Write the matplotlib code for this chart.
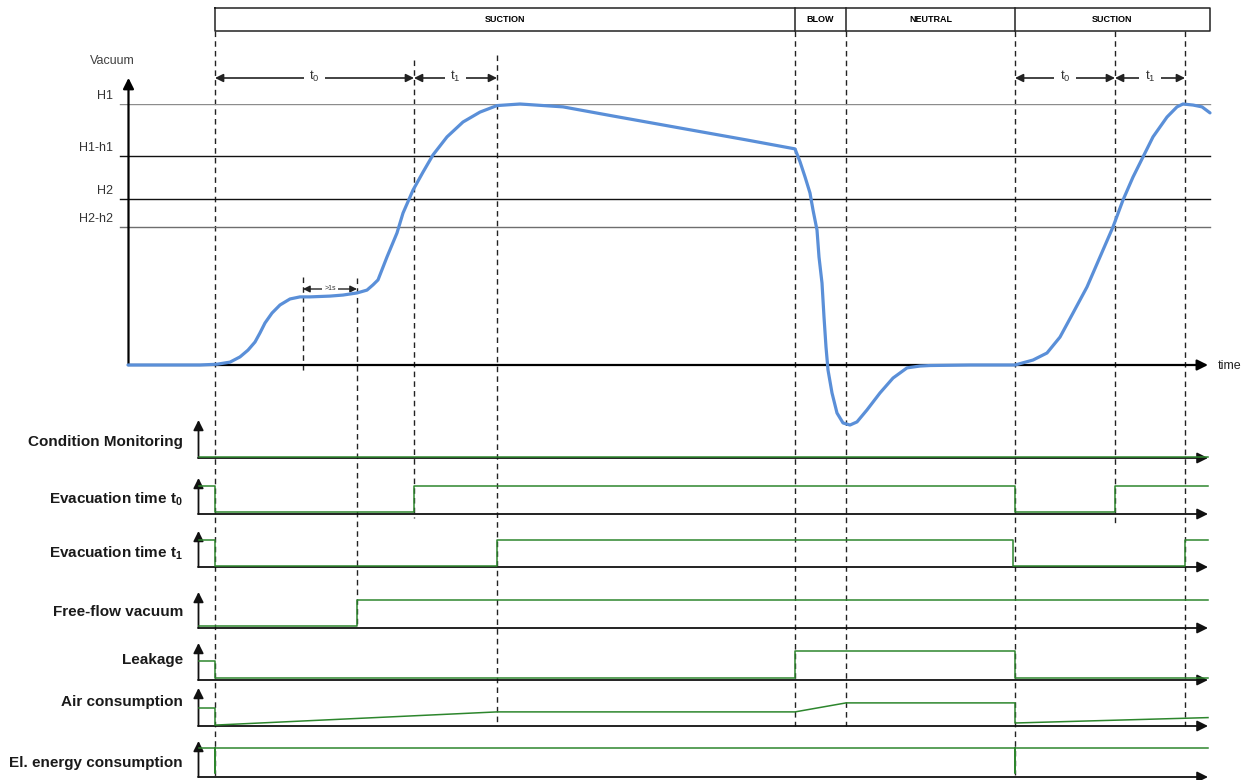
import matplotlib.pyplot as plt

plt.rcParams['font.family'] = ['Liberation Sans', 'DejaVu Sans']

# time in arbitrary units (0 = origin of the vacuum axis)
phase_names = ['SUCTION', 'BLOW', 'NEUTRAL', 'SUCTION']
phase_bounds = [87, 667, 718, 887, 1082]

# vacuum curve, in % of H1
vac_t = [0, 72, 89, 102, 112, 120, 127, 132, 137, 144, 152, 162, 172, 182, 202, 215, 229,
         239, 245, 250, 259, 269, 275, 285, 295, 305, 319, 335, 352, 369, 392, 435, 485,
         552, 619, 667, 672, 677, 682, 685, 689, 691, 694, 696, 698, 700, 704, 709, 715,
         722, 729, 739, 752, 765, 779, 792, 802, 842, 887, 905, 919, 932, 945, 959, 972,
         985, 995, 1005, 1015, 1025, 1039, 1049, 1055, 1065, 1074, 1082]
vac_v = [0, 0, 0.3, 1.1, 3.1, 5.7, 8.8, 12.3, 16.1, 19.9, 23.0, 25.3, 26.1, 26.1, 26.4, 26.8, 27.6,
         28.7, 30.7, 32.6, 41.4, 50.6, 58.2, 67.0, 73.9, 80.5, 87.4, 93.1, 96.9, 99.4, 100, 98.9, 95.4,
         90.8, 86.2, 82.8, 77.9, 72.1, 65.9, 59.4, 51.7, 41.4, 31.4, 18.4, 6.9, -1.9, -10.7, -18.4, -22.2,
         -23.0, -21.8, -17.2, -10.7, -5.0, -1.1, -0.4, -0.2, 0, 0, 1.9, 4.6, 10.7, 19.9, 29.9, 41.4,
         52.9, 63.2, 72.0, 79.7, 87.4, 95.0, 98.9, 100, 99.6, 98.9, 96.6]

level_names = ['H1', 'H1-h1', 'H2', 'H2-h2']
level_values = [100, 80, 63.6, 53]
level_colors = ['#8c8c8c', '#111111', '#111111', '#6e6e6e']

# event markers: time, top and bottom of the dashed line (pixel rows)
event_t = [87, 175, 229, 286, 369, 667, 718, 887, 987, 1057]
event_top = [31, 277, 278, 60, 55, 31, 31, 31, 31, 31]
event_bot = [780, 373, 628, 518, 726, 726, 726, 775, 524, 726]

# time spans shown with arrows
span_start = [87, 286, 887, 987]
span_end = [286, 369, 987, 1057]
span_labels = [r'$\mathregular{t_0}$', r'$\mathregular{t_1}$', r'$\mathregular{t_0}$', r'$\mathregular{t_1}$']

# status signals (0 = axis, 1 = full height)
signal_names = ['Condition Monitoring', r'Evacuation time $\mathregular{t_0}$',
                r'Evacuation time $\mathregular{t_1}$', 'Free-flow vacuum', 'Leakage',
                'Air consumption', 'El. energy consumption']
cm_t = [71, 1080]
cm_v = [0.05, 0.05]
t0_t = [71, 87, 87, 286, 286, 887, 887, 987, 987, 1080]
t0_v = [0.93, 0.93, 0.07, 0.07, 0.93, 0.93, 0.07, 0.07, 0.93, 0.93]
t1_t = [71, 87, 87, 369, 369, 885, 885, 1057, 1057, 1080]
t1_v = [0.9, 0.9, 0.03, 0.03, 0.9, 0.9, 0.03, 0.03, 0.9, 0.9]
ff_t = [71, 229, 229, 1080]
ff_v = [0.07, 0.07, 0.93, 0.93]
leak_t = [71, 87, 87, 667, 667, 887, 887, 1080]
leak_v = [0.63, 0.63, 0.07, 0.07, 0.97, 0.97, 0.07, 0.07]
air_t = [71, 87, 87, 369, 667, 718, 887, 887, 1080]
air_v = [0.6, 0.6, 0.03, 0.47, 0.47, 0.77, 0.77, 0.1, 0.28]
el_t = [71, 87, 87, 87, 887, 887, 887, 1080]
el_v = [0.97, 0.97, 0.13, 0.97, 0.97, 0.13, 0.97, 0.97]
signals = [(cm_t, cm_v), (t0_t, t0_v), (t1_t, t1_v), (ff_t, ff_v),
           (leak_t, leak_v), (air_t, air_v), (el_t, el_v)]

W, H = 1250, 780
XLIM = (-128, 1122)
GREEN = '#2d862d'
BLUE = '#5a8fd8'
row_base = [458, 514, 567, 628, 680, 726, 777]
row_top = [420, 478, 531, 592, 643, 688, 741]
row_label_y = [442, 499, 553, 612, 660, 702, 763]

fig = plt.figure(figsize=(W / 100, H / 100), dpi=100)

# overlay in (time, pixel row) coordinates for annotations
lay = fig.add_axes([0, 0, 1, 1])
lay.set_xlim(XLIM)
lay.set_ylim(H, 0)
lay.axis('off')

for t, y0, y1 in zip(event_t, event_top, event_bot):
    lay.plot([t, t], [y0, y1], color='#222222', lw=1.0, ls=(0, (4, 3)))

# phase bar
lay.plot([phase_bounds[0], phase_bounds[-1], phase_bounds[-1], phase_bounds[0], phase_bounds[0]],
         [8, 8, 31, 31, 8], color='#222222', lw=1.1)
for b in phase_bounds[1:-1]:
    lay.plot([b, b], [8, 31], color='#222222', lw=1.1)
for name, a, b in zip(phase_names, phase_bounds[:-1], phase_bounds[1:]):
    lay.text((a + b) / 2, 19.5, name, ha='center', va='center', fontsize=6.5,
             fontweight='bold', family=['Liberation Sans Narrow', 'Liberation Sans'])

# time span arrows
for a, b, lab in zip(span_start, span_end, span_labels):
    lay.annotate('', xy=(a, 78), xytext=(b, 78),
                 arrowprops=dict(arrowstyle='<|-|>', color='#222222', lw=1.2,
                                 mutation_scale=12, shrinkA=0, shrinkB=0))
    lay.text((a + b) / 2, 76, lab, ha='center', va='center', fontsize=9.5, color='#333333',
             bbox=dict(facecolor='white', edgecolor='none', pad=4))
lay.annotate('', xy=(175, 289), xytext=(229, 289),
             arrowprops=dict(arrowstyle='<|-|>', color='#222222', lw=1.0,
                             mutation_scale=10, shrinkA=0, shrinkB=0))
lay.text(202, 288, '>1s', ha='center', va='center', fontsize=5, color='#333333',
         bbox=dict(facecolor='white', edgecolor='none', pad=1.5))

lay.text(-16, 61, 'Vacuum', ha='center', va='center', fontsize=9, color='#404040')
lay.text(1090, 366, 'time', ha='left', va='center', fontsize=9, color='#222222')

# vacuum chart
ax_v = fig.add_axes([0, (H - 365) / H, 1, 261 / H])
ax_v.set_xlim(XLIM)
ax_v.set_ylim(0, 100)
ax_v.axis('off')
for name, val, col in zip(level_names, level_values, level_colors):
    ax_v.plot([-8, 1082], [val, val], color=col, lw=1.0, zorder=1)
    ax_v.text(-15, val + 0.8, name, ha='right', va='bottom', fontsize=9, color='#333333')
ax_v.annotate('', xy=(1080, 0), xytext=(0, 0), annotation_clip=False,
              arrowprops=dict(arrowstyle='-|>', color='k', lw=1.6,
                              mutation_scale=16, shrinkA=0, shrinkB=0))
ax_v.annotate('', xy=(0.5, 110), xytext=(0.5, 0), annotation_clip=False,
              arrowprops=dict(arrowstyle='-|>', color='k', lw=1.6,
                              mutation_scale=16, shrinkA=0, shrinkB=0))
ax_v.plot(vac_t, vac_v, color=BLUE, lw=2.3, clip_on=False, zorder=5,
          solid_capstyle='round', solid_joinstyle='round')

# status rows
for name, (st, sv), base, top, ly in zip(signal_names, signals, row_base, row_top, row_label_y):
    ax = fig.add_axes([0, (H - base) / H, 1, 30 / H])
    ax.set_xlim(XLIM)
    ax.set_ylim(0, 1)
    ax.axis('off')
    ax.annotate('', xy=(1080, 0), xytext=(70, 0), annotation_clip=False,
                arrowprops=dict(arrowstyle='-|>', color='#111111', lw=1.3,
                                mutation_scale=16, shrinkA=0, shrinkB=0))
    ax.annotate('', xy=(70.5, (base - top) / 30), xytext=(70.5, 0), annotation_clip=False,
                arrowprops=dict(arrowstyle='-|>', color='#111111', lw=1.3,
                                mutation_scale=15, shrinkA=0, shrinkB=0))
    ax.plot(st, sv, color=GREEN, lw=1.1, clip_on=False, zorder=3)
    lay.text(55, ly, name, ha='right', va='center', fontsize=11, fontweight='bold',
             color='#1a1a1a')

fig.savefig('out.png', dpi=100)
